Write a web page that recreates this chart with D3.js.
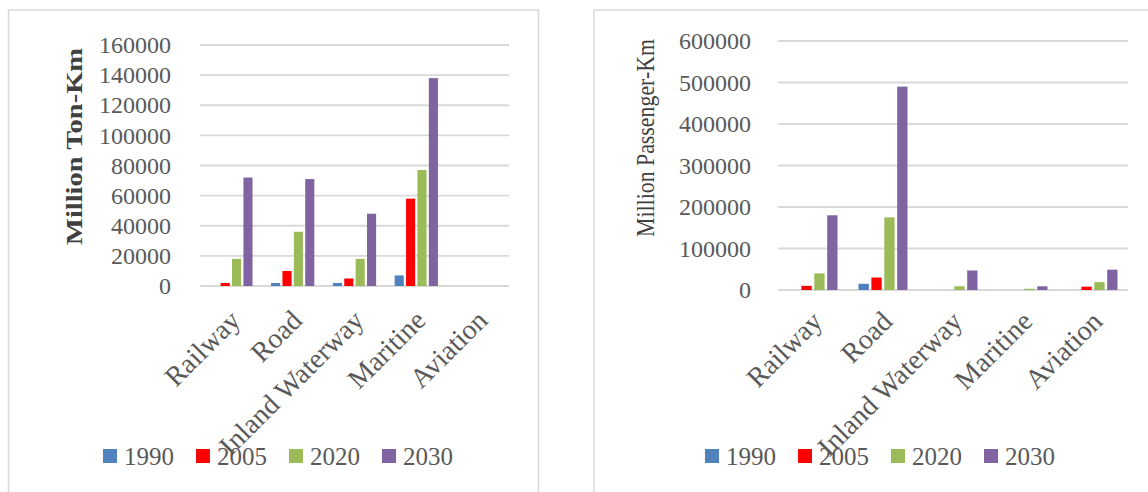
<!DOCTYPE html>
<html>
<head>
<meta charset="utf-8">
<script src="https://cdn.jsdelivr.net/npm/d3@7"></script>
<style>
  html, body { margin: 0; padding: 0; background: #fff; }
  body { width: 1148px; height: 492px; overflow: hidden; }
  svg text { font-family: "Liberation Serif", "Times New Roman", serif; }
</style>
</head>
<body>
<script>
// categories and series
var categories = ["Railway", "Road", "Inland Waterway", "Maritine", "Aviation"];
var years = ["1990", "2005", "2020", "2030"];
var colours = ["#4f81bd", "#ff0000", "#9bbb59", "#8064a2"];

// freight, million ton-km
var freight1990 = [0, 2000, 2000, 7000, 0];
var freight2005 = [2000, 10000, 5000, 58000, 0];
var freight2020 = [18000, 36000, 18000, 77000, 0];
var freight2030 = [72000, 71000, 48000, 138000, 0];
var freightTicks = [0, 20000, 40000, 60000, 80000, 100000, 120000, 140000, 160000];

// passengers, million passenger-km
var passenger1990 = [0, 15000, 0, 0, 0];
var passenger2005 = [10000, 30000, 0, 0, 8000];
var passenger2020 = [40000, 175000, 9000, 3000, 19000];
var passenger2030 = [180000, 490000, 47000, 9000, 49000];
var passengerTicks = [0, 100000, 200000, 300000, 400000, 500000, 600000];

var width = 1148;
var height = 492;
var serif = "Liberation Serif";

var svg = d3.select("body")
    .append("svg")
    .attr("width", width)
    .attr("height", height)
    .attr("font-family", serif);

function drawPanel(p) {
    var g = svg.append("g");

    // panel frame
    g.append("rect")
        .attr("x", p.frame[0])
        .attr("y", p.frame[1])
        .attr("width", p.frame[2])
        .attr("height", p.frame[3])
        .attr("fill", "none")
        .attr("stroke", "#d9d9d9")
        .attr("stroke-width", 1.5);

    var y = d3.scaleLinear()
        .domain([0, d3.max(p.ticks)])
        .range([p.bottom, p.top]);

    var x0 = d3.scaleBand()
        .domain(categories)
        .range([p.left, p.right])
        .paddingInner(0.3)
        .paddingOuter(0.15);

    var x1 = d3.scaleBand()
        .domain(years)
        .range([0, x0.bandwidth()])
        .paddingInner(0.2);

    // gridlines
    g.selectAll(".grid")
        .data(p.ticks)
        .enter()
        .append("line")
        .attr("x1", p.left)
        .attr("x2", p.right)
        .attr("y1", function(d) { return y(d); })
        .attr("y2", function(d) { return y(d); })
        .attr("stroke", "#d9d9d9")
        .attr("stroke-width", 1.8);

    // bars
    var rows = categories.map(function(c, i) {
        return { cat: c, vals: p.series.map(function(s) { return s[i]; }) };
    });

    var group = g.selectAll(".cat")
        .data(rows)
        .enter()
        .append("g")
        .attr("transform", function(d) { return "translate(" + x0(d.cat) + ",0)"; });

    group.selectAll("rect")
        .data(function(d) { return d.vals; })
        .enter()
        .append("rect")
        .attr("x", function(d, i) { return x1(years[i]); })
        .attr("width", x1.bandwidth())
        .attr("y", function(d) { return y(d); })
        .attr("height", function(d) { return y(0) - y(d); })
        .attr("fill", function(d, i) { return colours[i]; });

    // y axis labels
    var yAxis = g.append("g")
        .attr("transform", "translate(" + p.tickRight + ",0)")
        .call(d3.axisLeft(y).tickValues(p.ticks).tickSize(0).tickPadding(0).tickFormat(d3.format("d")));
    yAxis.attr("font-family", serif);
    yAxis.select(".domain").remove();
    yAxis.selectAll("text")
        .attr("font-family", serif)
        .attr("font-size", 24)
        .attr("fill", "#595959");

    // category labels, rotated
    var xAxis = g.append("g")
        .attr("transform", "translate(0," + p.bottom + ")")
        .call(d3.axisBottom(x0).tickSize(0));
    xAxis.attr("font-family", serif);
    xAxis.select(".domain").remove();
    xAxis.selectAll("text")
        .attr("font-family", serif)
        .attr("font-size", 28)
        .attr("fill", "#595959")
        .attr("text-anchor", "end")
        .attr("y", null)
        .attr("dy", null)
        .attr("transform", "translate(11," + p.labelDrop + ") rotate(-45)");

    // axis title
    g.append("text")
        .attr("transform", "translate(" + p.titleX + "," + p.titleY + ") rotate(-90)")
        .attr("text-anchor", "middle")
        .attr("font-family", serif)
        .attr("font-size", p.titleSize)
        .attr("font-weight", p.titleWeight)
        .attr("fill", "#404040")
        .attr("textLength", p.titleLength)
        .attr("lengthAdjust", "spacingAndGlyphs")
        .text(p.title);

    // legend
    var legend = g.selectAll(".legend")
        .data(years)
        .enter()
        .append("g")
        .attr("transform", function(d, i) { return "translate(" + (p.legendX + i * 93) + ",449)"; });
    legend.append("rect")
        .attr("width", 14)
        .attr("height", 14)
        .attr("fill", function(d, i) { return colours[i]; });
    legend.append("text")
        .attr("x", 21)
        .attr("y", 16)
        .attr("font-family", serif)
        .attr("font-size", 25)
        .attr("fill", "#595959")
        .text(function(d) { return d; });
}

drawPanel({
    frame: [8.5, 10, 530, 500],
    left: 200, right: 509, top: 45, bottom: 286,
    ticks: freightTicks,
    series: [freight1990, freight2005, freight2020, freight2030],
    tickRight: 171,
    labelDrop: 36,
    title: "Million Ton-Km",
    titleX: 82, titleY: 146.5, titleSize: 24, titleWeight: "bold", titleLength: 197,
    legendX: 103
});

drawPanel({
    frame: [594, 10, 600, 500],
    left: 778, right: 1128, top: 41, bottom: 290,
    ticks: passengerTicks,
    series: [passenger1990, passenger2005, passenger2020, passenger2030],
    tickRight: 751,
    labelDrop: 33,
    title: "Million Passenger-Km",
    titleX: 654, titleY: 138, titleSize: 26, titleWeight: "normal", titleLength: 198,
    legendX: 705
});
</script>
</body>
</html>
